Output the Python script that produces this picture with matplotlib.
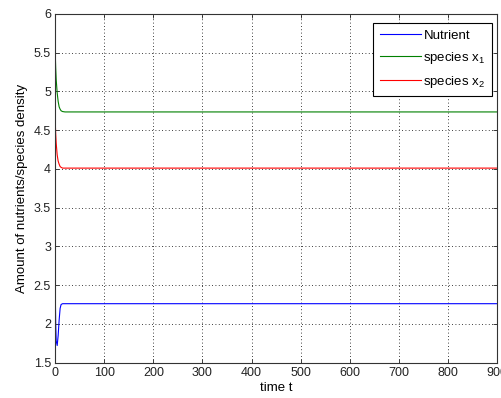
import matplotlib.pyplot as plt
import numpy as np

plt.rcParams['font.family'] = ['Liberation Sans', 'DejaVu Sans']
plt.rcParams['mathtext.default'] = 'regular'

# time points (transient then flat)
t = [0, 1, 2, 4, 6, 8, 10, 12, 15, 20, 900]
nutrient = [2.43, 2.00, 1.78, 1.72, 1.85, 2.05, 2.20, 2.25, 2.26, 2.26, 2.26]
species_x1 = [5.50, 5.30, 5.15, 4.98, 4.87, 4.80, 4.77, 4.75, 4.74, 4.735, 4.735]
species_x2 = [4.62, 4.45, 4.33, 4.18, 4.10, 4.06, 4.03, 4.02, 4.01, 4.01, 4.01]

xticks = np.arange(0, 901, 100)
yticks = np.arange(1.5, 6.01, 0.5)
ytick_labels = ['1.5', '2', '2.5', '3', '3.5', '4', '4.5', '5', '5.5', '6']

fig = plt.figure(figsize=(5.02, 3.98), dpi=100)
ax = fig.add_axes([0.110, 0.089, 0.880, 0.876])

ax.plot(t, nutrient, color=(0, 0, 1), lw=0.8, label='Nutrient')
ax.plot(t, species_x1, color=(0, 0.5, 0), lw=0.8, label='species x$_1$')
ax.plot(t, species_x2, color=(1, 0, 0), lw=0.8, label='species x$_2$')

ax.set_xlim(0, 900)
ax.set_ylim(1.5, 6)
ax.set_xticks(xticks)
ax.set_yticks(yticks)
ax.set_yticklabels(ytick_labels)
ax.tick_params(direction='in', labelsize=9, length=3, width=0.6,
               top=True, right=True, pad=3, colors='#222222')
ax.grid(True, color='black', linestyle=(0, (1, 3)), linewidth=0.6)
for s in ax.spines.values():
    s.set_linewidth(0.8)
    s.set_color('#333333')

ax.set_xlabel('time t', fontsize=9.5, labelpad=2)
ax.set_ylabel('Amount of nutrients/species density', fontsize=9.5, labelpad=4)

leg = ax.legend(loc='upper right', bbox_to_anchor=(0.989, 0.974), fontsize=9.5,
                fancybox=False, framealpha=1, edgecolor='black',
                borderaxespad=0, handlelength=3.1, handletextpad=0.2,
                borderpad=0.5, labelspacing=0.6)
leg.get_frame().set_linewidth(0.8)

fig.savefig('out.png', dpi=100)
